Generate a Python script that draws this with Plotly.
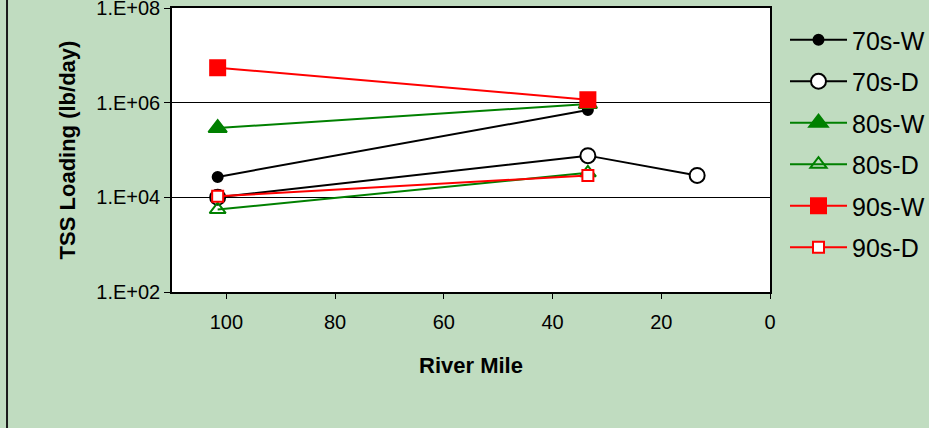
import plotly.graph_objects as go

# River mile stations and TSS loadings (lb/day) by decade and season
rm_two = [101.6, 33.5]
rm_three = [101.6, 33.5, 13.4]

load_70s_w = [2.7e4, 7.0e5]
load_70s_d = [1.0e4, 7.6e4, 2.9e4]
load_80s_w = [2.9e5, 9.4e5]
load_80s_d = [5.5e3, 3.3e4]
load_90s_w = [5.5e6, 1.15e6]
load_90s_d = [1.05e4, 2.9e4]

x_ticks = [100, 80, 60, 40, 20, 0]
y_ticks = [1e2, 1e4, 1e6, 1e8]
y_tick_text = ["1.E+02", "1.E+04", "1.E+06", "1.E+08"]

BLACK = "#000000"
GREEN = "#008000"
RED = "#FF0000"
BG = "#C0DCC0"
FONT = "Arial, Liberation Sans, sans-serif"

series = [
    ("70s-W", rm_two, load_70s_w, BLACK, "circle", 10, BLACK),
    ("70s-D", rm_three, load_70s_d, BLACK, "circle", 15, "white"),
    ("80s-W", rm_two, load_80s_w, GREEN, "triangle-up", 16, GREEN),
    ("80s-D", rm_two, load_80s_d, GREEN, "triangle-up-open", 14, None),
    ("90s-W", rm_two, load_90s_w, RED, "square", 15, RED),
    ("90s-D", rm_two, load_90s_d, RED, "square", 11, "white"),
]

fig = go.Figure()
for i, (name, xs, ys, color, symbol, size, fill) in enumerate(series):
    marker = dict(symbol=symbol, size=size, line=dict(color=color, width=2),
                  color=fill if fill is not None else color)
    fig.add_trace(go.Scatter(
        x=xs, y=ys, name=name, mode="lines+markers",
        line=dict(color=color, width=2),
        marker=marker,
        legendgroup=f"g{i}",
    ))

fig.update_layout(
    width=929, height=428,
    margin=dict(l=172, r=159, t=8, b=136),
    paper_bgcolor=BG,
    plot_bgcolor="white",
    font=dict(family=FONT, color=BLACK, size=20),
    legend=dict(
        xref="container", yref="container",
        x=785 / 929, xanchor="left", y=1 - 17 / 428, yanchor="top",
        font=dict(family=FONT, size=25, color=BLACK),
        bgcolor="rgba(0,0,0,0)",
        itemwidth=57,
        tracegroupgap=6,
        traceorder="grouped",
        maxheight=400,
    ),
    xaxis=dict(
        range=[110, 0],
        tickvals=x_ticks,
        ticks="outside", ticklen=5, tickcolor=BLACK,
        ticklabelstandoff=6,
        automargin=False,
        showgrid=False, zeroline=False,
        showline=True, linecolor=BLACK, linewidth=1.5, mirror=True,
        tickfont=dict(size=20),
        title=dict(text="<b>River Mile</b>", font=dict(size=22), standoff=26),
    ),
    yaxis=dict(
        type="log",
        range=[2, 8.0001],
        tickvals=y_ticks, ticktext=y_tick_text,
        ticklabeloverflow="allow",
        automargin=False,
        ticks="outside", ticklen=6, tickcolor=BLACK,
        showgrid=True, gridcolor=BLACK, gridwidth=1,
        zeroline=False,
        showline=True, linecolor=BLACK, linewidth=1.5, mirror=True,
        tickfont=dict(size=20),
        title=dict(text="<b>TSS Loading (lb/day)</b>", font=dict(size=22), standoff=15),
    ),
    shapes=[
        dict(type="line", xref="paper", yref="paper",
             x0=-0.2759, x1=-0.2759, y0=-0.48, y1=1.03,
             line=dict(color="#1a1a1a", width=2)),
    ],
)

fig.write_html("out.html")
